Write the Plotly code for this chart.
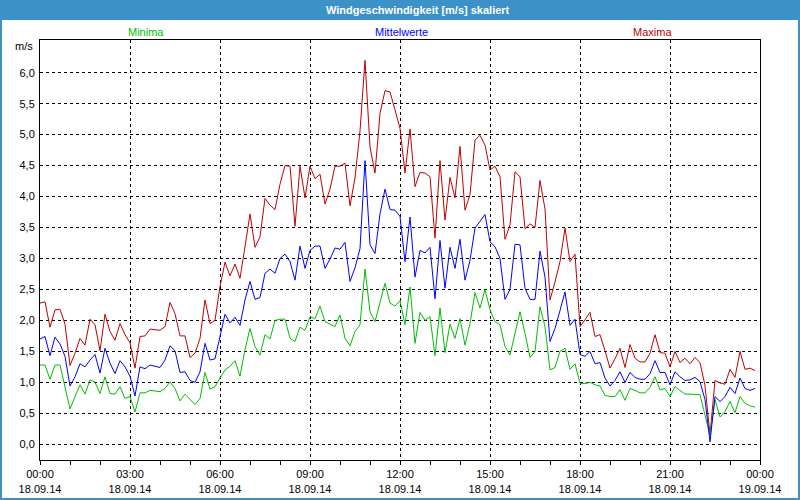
import plotly.graph_objects as go

# 10-minute samples, 18.09.14 00:00 .. 23:50
maxima = [
    2.28, 2.3, 1.89, 2.17, 2.18, 1.94, 1.27, 1.47, 1.71, 1.6, 2.02, 1.93, 1.51, 2.1, 1.82, 1.68, 1.95, 1.77, 1.64, 1.23, 1.74, 1.75, 1.86, 1.85,
    1.84, 1.9, 2.29, 2.11, 1.75, 1.75, 1.4, 1.47, 1.71, 2.33, 1.95, 2.0, 2.55, 2.94, 2.72, 2.91, 2.68, 3.19, 3.72, 3.18, 3.35, 3.97, 3.86, 3.79,
    4.2, 4.5, 4.49, 3.52, 4.49, 3.98, 4.49, 4.29, 4.36, 3.88, 4.12, 4.49, 4.49, 4.54, 3.85, 4.3, 5.06, 6.2, 4.8, 4.38, 5.34, 5.71, 5.69, 5.4,
    5.1, 4.38, 5.09, 4.16, 4.39, 4.38, 4.32, 3.33, 4.58, 3.62, 4.31, 3.98, 4.81, 3.78, 4.03, 4.91, 4.99, 4.83, 4.43, 4.49, 4.32, 3.31, 3.54, 4.4,
    4.32, 3.48, 3.56, 3.5, 4.26, 3.8, 2.33, 2.62, 2.95, 3.49, 2.95, 3.07, 1.9, 2.01, 2.13, 1.74, 1.77, 1.51, 1.23, 1.38, 1.55, 1.24, 1.61, 1.39,
    1.33, 1.33, 1.47, 1.77, 1.48, 1.47, 1.25, 1.5, 1.32, 1.39, 1.3, 1.4, 1.32, 0.95, 0.15, 1.03, 0.99, 0.97, 1.21, 1.08, 1.5, 1.21, 1.23, 1.19,
]
mittelwerte = [
    1.7, 1.74, 1.43, 1.73, 1.62, 1.42, 0.94, 1.09, 1.3, 1.25, 1.36, 1.45, 1.15, 1.55, 1.31, 1.14, 1.35, 1.25, 1.1, 0.78, 1.25, 1.22, 1.28, 1.26,
    1.24, 1.36, 1.59, 1.51, 1.16, 1.17, 1.03, 1.0, 1.17, 1.63, 1.36, 1.38, 1.75, 2.1, 1.96, 2.05, 1.92, 2.33, 2.63, 2.34, 2.37, 2.76, 2.83, 2.76,
    3.0, 3.07, 2.95, 2.65, 3.2, 2.84, 3.13, 3.2, 3.2, 2.84, 2.99, 3.17, 3.15, 3.26, 2.63, 2.85, 3.16, 4.58, 3.22, 3.08, 3.72, 4.12, 3.79, 3.78,
    3.68, 2.95, 3.67, 2.7, 3.13, 3.09, 3.18, 2.35, 3.29, 2.52, 3.18, 2.84, 3.31, 2.65, 2.97, 3.49, 3.6, 3.71, 3.27, 3.19, 3.0, 2.34, 2.5, 3.23,
    3.22, 2.52, 2.34, 2.34, 3.12, 2.7, 1.66, 1.87, 2.16, 2.46, 1.92, 2.02, 1.45, 1.42, 1.5, 1.3, 1.32, 1.07, 0.94, 1.03, 1.17, 1.0, 1.16, 1.08,
    1.05, 1.05, 1.14, 1.35, 1.16, 1.16, 0.96, 1.17, 1.09, 1.03, 1.04, 1.08, 1.01, 0.72, 0.04, 0.77, 0.69, 0.77, 0.92, 0.82, 1.07, 0.9, 0.87, 0.9,
]
minima = [
    1.28, 1.28, 1.05, 1.28, 1.28, 0.93, 0.57, 0.77, 0.96, 0.81, 1.04, 1.0, 0.82, 1.09, 0.82, 0.81, 0.93, 0.74, 0.77, 0.52, 0.83, 0.83, 0.87, 0.86,
    0.85, 0.9, 1.01, 0.9, 0.7, 0.81, 0.73, 0.64, 0.74, 1.16, 0.89, 0.93, 1.07, 1.2, 1.26, 1.35, 1.1, 1.53, 1.87, 1.58, 1.44, 1.77, 1.7, 2.0,
    2.02, 2.02, 1.71, 1.66, 1.89, 1.84, 2.06, 2.03, 2.23, 1.98, 1.94, 1.9, 2.09, 1.71, 1.59, 1.82, 1.93, 2.83, 2.14, 1.98, 2.29, 2.6, 2.28, 2.23,
    2.32, 1.93, 2.54, 1.63, 2.13, 2.0, 2.06, 1.43, 2.2, 1.48, 1.94, 1.71, 2.03, 1.6, 1.95, 2.45, 2.2, 2.5, 2.17, 1.98, 1.93, 1.58, 1.44, 1.79,
    2.14, 1.79, 1.4, 1.5, 2.22, 1.9, 1.2, 1.24, 1.5, 1.55, 1.21, 1.3, 0.98, 0.98, 1.0, 0.96, 0.94, 0.79, 0.77, 0.77, 0.88, 0.71, 0.9, 0.87,
    0.83, 0.83, 0.92, 1.09, 0.88, 0.9, 0.77, 0.93, 0.87, 0.81, 0.81, 0.81, 0.8, 0.47, 0.15, 0.72, 0.44, 0.53, 0.69, 0.51, 0.77, 0.66, 0.62, 0.6,
]

hours = [i * 10 / 60 for i in range(len(maxima))]

tick_hours = [0, 3, 6, 9, 12, 15, 18, 21, 24]
tick_text = [
    "00:00<br>18.09.14", "03:00<br>18.09.14", "06:00<br>18.09.14",
    "09:00<br>18.09.14", "12:00<br>18.09.14", "15:00<br>18.09.14",
    "18:00<br>18.09.14", "21:00<br>18.09.14", "00:00<br>19.09.14",
]
y_ticks = [0, 0.5, 1, 1.5, 2, 2.5, 3, 3.5, 4, 4.5, 5, 5.5, 6]

RED = "rgb(192,0,0)"
BLUE = "rgb(0,0,255)"
GREEN = "rgb(0,190,0)"
FRAME = "rgb(61,145,201)"
FONT = "Liberation Sans"

fig = go.Figure()
fig.add_trace(go.Scatter(x=hours, y=maxima, mode="lines", line=dict(color=RED, width=1), name="Maxima"))
fig.add_trace(go.Scatter(x=hours, y=minima, mode="lines", line=dict(color=GREEN, width=1), name="Minima"))
fig.add_trace(go.Scatter(x=hours, y=mittelwerte, mode="lines", line=dict(color=BLUE, width=1), name="Mittelwerte"))

W, H = 800, 500
L, R, T, B = 40, 40, 40, 40
pw, ph = W - L - R, H - T - B


def px(x):
    return (x - L) / pw


def py(y):
    return (H - B - y) / ph


shapes = [
    dict(type="rect", xref="paper", yref="paper", x0=px(0), x1=px(W), y0=py(20), y1=py(0),
         fillcolor=FRAME, line=dict(width=0), layer="below"),
    dict(type="rect", xref="paper", yref="paper", x0=px(0), x1=px(2), y0=py(H), y1=py(0),
         fillcolor=FRAME, line=dict(width=0), layer="below"),
    dict(type="rect", xref="paper", yref="paper", x0=px(W - 2), x1=px(W), y0=py(H), y1=py(0),
         fillcolor=FRAME, line=dict(width=0), layer="below"),
    dict(type="rect", xref="paper", yref="paper", x0=px(0), x1=px(W), y0=py(H), y1=py(H - 2),
         fillcolor=FRAME, line=dict(width=0), layer="below"),
]

annotations = [
    dict(text="<b>Windgeschwindigkeit [m/s] skaliert</b>", xref="paper", yref="paper",
         x=px(418), y=py(10), showarrow=False, font=dict(family=FONT, size=11, color="white"),
         xanchor="center", yanchor="middle"),
    dict(text="Minima", xref="paper", yref="paper", x=px(146), y=py(32), showarrow=False,
         font=dict(family=FONT, size=11, color=GREEN), xanchor="center", yanchor="middle"),
    dict(text="Mittelwerte", xref="paper", yref="paper", x=px(401), y=py(32), showarrow=False,
         font=dict(family=FONT, size=11, color=BLUE), xanchor="center", yanchor="middle"),
    dict(text="Maxima", xref="paper", yref="paper", x=px(652), y=py(32), showarrow=False,
         font=dict(family=FONT, size=11, color=RED), xanchor="center", yanchor="middle"),
    dict(text="m/s", xref="paper", yref="paper", x=px(35), y=py(46), showarrow=False,
         font=dict(family=FONT, size=11, color="black"), xanchor="right", yanchor="middle"),
]

fig.update_layout(
    width=W, height=H,
    autosize=False,
    margin=dict(l=L, r=R, t=T, b=B, autoexpand=False),
    paper_bgcolor="white",
    plot_bgcolor="rgba(0,0,0,0)",
    showlegend=False,
    separators=",.",
    font=dict(family=FONT, size=11, color="black"),
    shapes=shapes,
    annotations=annotations,
    xaxis=dict(
        range=[0, 24], tickvals=tick_hours, ticktext=tick_text, automargin=False,
        showgrid=True, gridcolor="black", gridwidth=1, griddash="3px,3px",
        showline=True, linecolor="black", linewidth=1, mirror=True,
        ticks="outside", ticklen=4, tickcolor="black",
        minor=dict(dtick=1, ticks="outside", ticklen=4, tickcolor="black", showgrid=False),
        zeroline=False, tickfont=dict(family=FONT, size=11),
    ),
    yaxis=dict(
        range=[-0.254, 6.528], tickvals=y_ticks, tickformat=".1f", automargin=False,
        showgrid=True, gridcolor="black", gridwidth=1, griddash="3px,3px",
        showline=True, linecolor="black", linewidth=1, mirror=True,
        ticks="outside", ticklen=2, tickcolor="rgba(0,0,0,0)",
        zeroline=False, tickfont=dict(family=FONT, size=11),
    ),
)

fig.write_html(
    "out.html",
    config={"displayModeBar": False, "responsive": False},
    post_script="document.body.style.margin='0';document.body.style.overflow='hidden';",
)
